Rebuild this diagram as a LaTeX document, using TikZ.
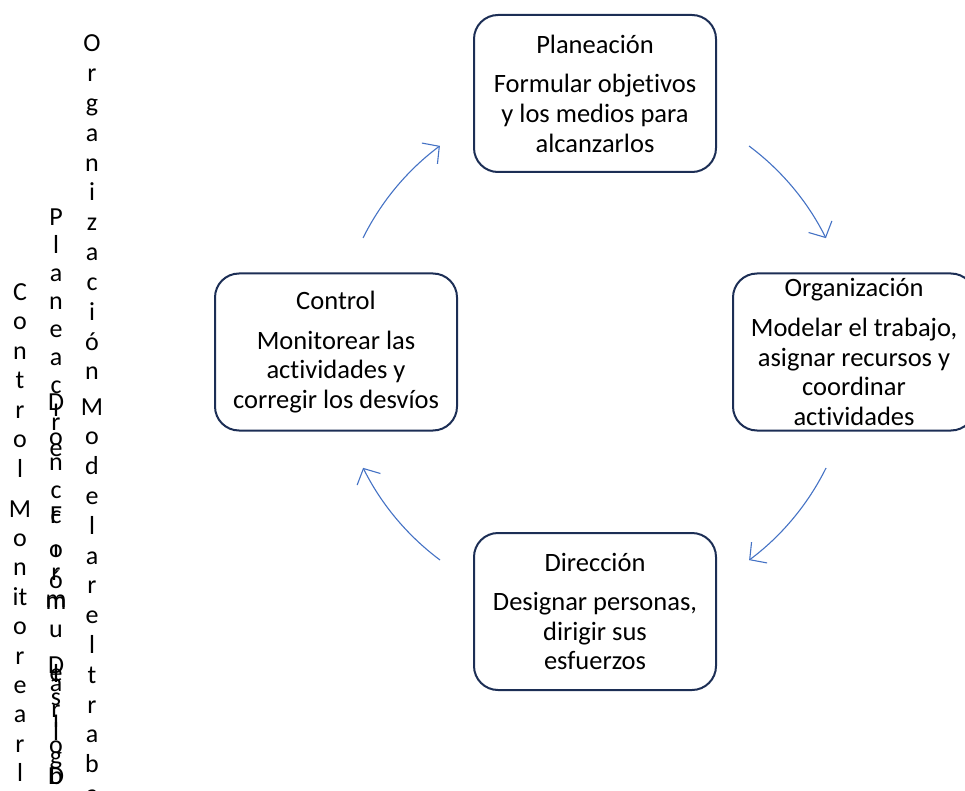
\documentclass[tikz,border=0pt]{standalone}
\usepackage{fontspec}
\setmainfont{Carlito}[Ligatures=NoCommon]
\usetikzlibrary{arrows.meta}
\definecolor{boxline}{HTML}{1C2E55}
\definecolor{arrowblue}{HTML}{4472C4}

\begin{document}
\begin{tikzpicture}[x=1pt, y=-1pt,
    stage/.style={draw=boxline, line width=2pt, rounded corners=24pt, minimum width=242pt, minimum height=157pt, inner sep=0pt, align=center, font=\fontsize{26.5}{29.6}\selectfont},
    cycle/.style={draw=arrowblue, line width=1.1pt, -{Straight Barb[length=12pt, width=26pt]}},
    letter/.style={anchor=base, inner sep=0pt, font=\fontsize{26}{26}\selectfont}]
    \useasboundingbox (0,0) rectangle (965,791);

    % Nodes
    \node[stage] (plan) at (595,93.5) {Planeación\\[10pt]Formular objetivos\\y los medios para\\alcanzarlos};
    \node[stage] (org) at (854,352) {Organización\\[10pt]Modelar el trabajo,\\asignar recursos y\\coordinar\\actividades};
    \node[stage] (dir) at (595,611.5) {Dirección\\[10pt]Designar personas,\\dirigir sus\\esfuerzos};
    \node[stage] (ctrl) at (336,352) {Control\\[10pt]Monitorear las\\actividades y\\corregir los desvíos};

    % Arrows
    \coordinate (ctrl-out) at (363,238);
    \coordinate (plan-out) at (749,146);
    \coordinate (org-out) at (826,468);
    \coordinate (dir-out) at (440,560);
    \draw[cycle] (ctrl-out) arc[start angle=-153.6, end angle=-126.7, radius=258];
    \draw[cycle] (plan-out) arc[start angle=-53.3, end angle=-26.4, radius=258];
    \draw[cycle] (org-out) arc[start angle=26.4, end angle=53.3, radius=258];
    \draw[cycle] (dir-out) arc[start angle=126.7, end angle=153.6, radius=258];

    % Vertical letters on the left
    \foreach \ch [count=\i from 0] in {C,o,n,t,r,o,l}
        \node[letter] (ca\i) at (20,300+29.5*\i) {\ch};
    \foreach \ch [count=\i from 0] in {M,o,n,it,o,r,e,a,r,l}
        \node[letter] (cb\i) at (20,517+29.4*\i) {\ch};
    \foreach \y/\ch [count=\i] in {226/P,254/l,282/a,309/n,337/e,365/a,393/c,410/D,416/ı,430/r,445/o,456/e,470/n,498/c,523/F,523/c,557/o,557/ı,580/r,588/ó,607/m,609/m,637/u,673/D,682/l,681/e,691/a,705/s,717/r,727/ı,740/l,753/o,764/g,784/b,784/D}
        \node[letter] (pd\i) at (56,\y) {\ch};
    \foreach \ch [count=\i from 0] in {O,r,g,a,n,i,z,a,c,i,ó,n}
        \node[letter] (oa\i) at (92,52+29.8*\i) {\ch};
    \foreach \ch [count=\i from 0] in {M,o,d,e,l,a,r,e,l,t,r,a,b,a}
        \node[letter] (ob\i) at (92,415+29.8*\i) {\ch};
\end{tikzpicture}
\end{document}
